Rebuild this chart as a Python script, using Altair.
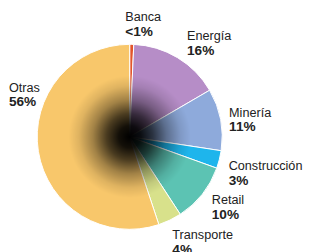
import math
import altair as alt
import pandas as pd

sectors = ["Banca", "Energía", "Minería", "Construcción", "Retail", "Transporte", "Otras"]
shares = [0.7, 15.9, 10.8, 3.1, 10.3, 4.1, 55.1]
pct_labels = ["<1%", "16%", "11%", "3%", "10%", "4%", "56%"]
colors = ["#E2552B", "#B68DC7", "#8EAADB", "#1EB5EC", "#5CC3B3", "#D8E18B", "#F8C76B"]

df = pd.DataFrame({
    "sector": sectors,
    "share": shares,
    "pct": pct_labels,
    "order": list(range(len(sectors))),
})

CX, CY, R = 125, 129, 95
LR = 110
FONT = "Liberation Sans"

pie = alt.Chart(df).mark_arc(
    x=CX, y=CY, outerRadius=R, stroke="white", strokeWidth=1
).encode(
    theta=alt.Theta("share:Q", stack=True),
    color=alt.Color("sector:N", scale=alt.Scale(domain=sectors, range=colors), legend=None),
    order=alt.Order("order:Q"),
)

shade_fill = alt.RadialGradient(
    gradient="radial",
    x1=0.5, y1=0.5, r1=0, x2=0.5, y2=0.5, r2=0.5,
    stops=[
        alt.GradientStop(offset=0, color="rgba(0,0,0,1)"),
        alt.GradientStop(offset=0.12, color="rgba(0,0,0,0.92)"),
        alt.GradientStop(offset=0.25, color="rgba(0,0,0,0.7)"),
        alt.GradientStop(offset=0.4, color="rgba(0,0,0,0.35)"),
        alt.GradientStop(offset=0.55, color="rgba(0,0,0,0.1)"),
        alt.GradientStop(offset=0.66, color="rgba(0,0,0,0)"),
        alt.GradientStop(offset=1, color="rgba(0,0,0,0)"),
    ],
)

shade = alt.Chart(pd.DataFrame({"k": [1]})).mark_arc(
    x=CX, y=CY, outerRadius=R, theta=0, theta2=2 * math.pi, fill=shade_fill
).encode(opacity=alt.value(1))

label_base = alt.Chart(df).transform_window(
    cum="sum(share)", sort=[alt.SortField("order")]
).transform_joinaggregate(
    total="sum(share)"
).transform_calculate(
    frac="(datum.cum - datum.share / 2) / datum.total"
)

theta_lab = alt.Theta("frac:Q", scale=alt.Scale(domain=[0, 1], range=[0, 2 * math.pi]), stack=None)

# (dx, dy) offsets of the left-aligned label block from the mid-angle anchor
label_style = {
    "Banca": (-7, -9),
    "Energía": (2, -5),
    "Minería": (-6, 0),
    "Construcción": (-5, 7),
    "Retail": (-2, 1),
    "Transporte": (-4, 6),
    "Otras": (-15.5, -64),
}

layers = [pie, shade]
for name in sectors:
    dx, dy = label_style[name]
    b = label_base.transform_filter(alt.datum.sector == name)
    layers.append(
        b.mark_text(x=CX, y=CY, radius=LR, align="left", baseline="alphabetic",
                    dx=dx, dy=dy, font=FONT, fontSize=13, color="#222222")
        .encode(theta=theta_lab, text="sector:N")
    )
    layers.append(
        b.mark_text(x=CX, y=CY, radius=LR, align="left", baseline="alphabetic",
                    dx=dx, dy=dy + 15, font=FONT, fontSize=14, fontWeight="bold", color="#222222")
        .encode(theta=theta_lab, text="pct:N")
    )

chart = alt.layer(*layers).resolve_scale(theta="independent").properties(
    width=303, height=244, padding=0, autosize="none", background="white"
).configure_view(stroke=None)

chart.save("out.html", embed_options={"renderer": "svg", "actions": False})
